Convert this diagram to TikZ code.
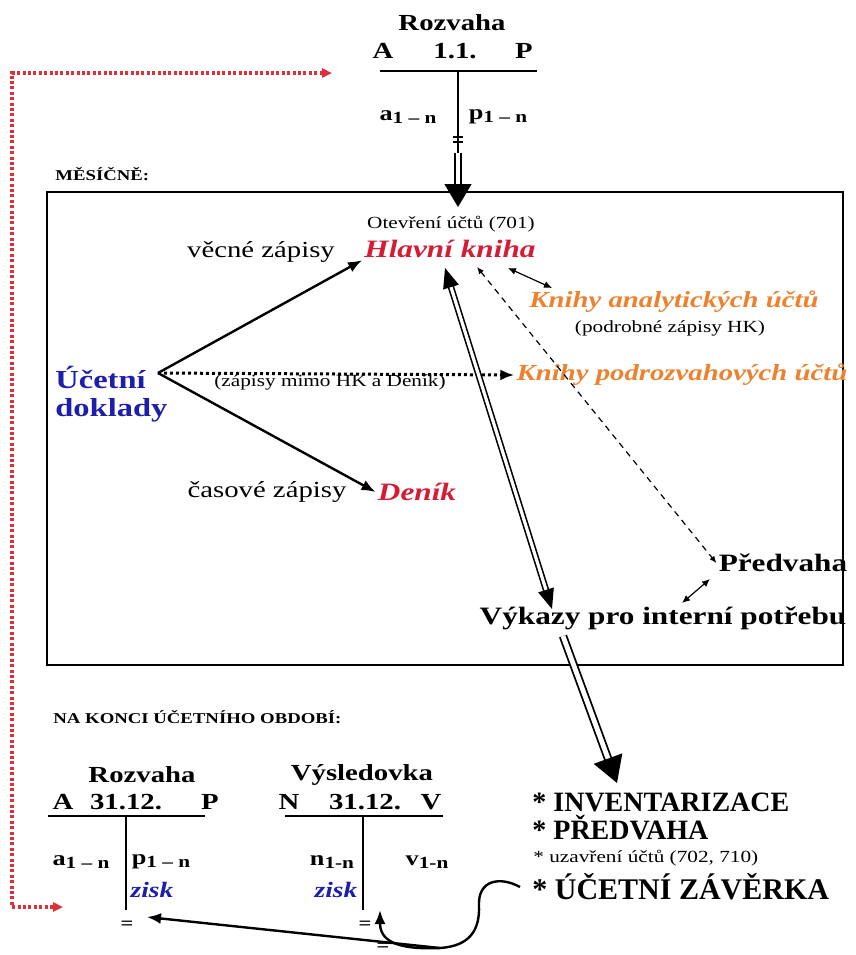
\documentclass[tikz,border=0pt]{standalone}
\usepackage{fontspec}
\setmainfont{Liberation Serif}[FakeStretch=1.25]
\newfontfamily\plainserif{Liberation Serif}
\usetikzlibrary{arrows.meta}

\definecolor{hkred}{RGB}{212,28,52}
\definecolor{bookorange}{RGB}{236,130,48}
\definecolor{docblue}{RGB}{30,30,172}
\definecolor{dotred}{RGB}{222,48,58}

\newcommand{\tsub}[2]{#1\raisebox{-0.3ex}{\fontsize{8.5}{8.5}\selectfont #2}}

\tikzset{
  thead/.style={font=\fontsize{11.5}{13}\selectfont\bfseries, inner sep=1pt},
  tentry/.style={font=\fontsize{10.5}{12}\selectfont\bfseries, inner sep=1pt},
  tline/.style={line width=1.4pt},
  book/.style={font=\fontsize{12.5}{14}\selectfont\bfseries\itshape, text=hkred, inner sep=1pt},
  subbook/.style={font=\fontsize{11.5}{13}\selectfont\bfseries\itshape, text=bookorange, inner sep=1pt},
  entry/.style={font=\fontsize{11.5}{13}\selectfont, inner sep=1pt},
  note/.style={font=\fontsize{8.5}{10}\selectfont, inner sep=1pt},
  period/.style={font=\fontsize{7.5}{9}\selectfont\bfseries, anchor=west, inner sep=0pt},
  report/.style={font=\fontsize{12.5}{14}\selectfont\bfseries, inner sep=1pt},
  closing/.style={font=\plainserif\fontsize{14}{16}\selectfont\bfseries, anchor=west, inner sep=0pt},
  profit/.style={font=\fontsize{11}{13}\selectfont\bfseries\itshape, text=docblue, inner sep=1pt},
  eqmark/.style={font=\fontsize{9}{9}\selectfont\bfseries, inner sep=0pt},
  flow/.style={line width=1.2pt, -{Latex[length=7pt,width=5.5pt]}},
  link/.style={line width=0.6pt, {Latex[length=4pt,width=3.5pt]}-{Latex[length=4pt,width=3.5pt]}},
  dashlink/.style={line width=0.6pt, dash pattern=on 3pt off 2.5pt, {Latex[length=3.5pt,width=3pt]}-{Latex[length=3.5pt,width=3pt]}},
  hollow/.style={double, double distance=#1},
  reddots/.style={dotred, line width=1.6pt, dash pattern=on 1.5pt off 1.2pt, {Triangle[length=5pt,width=4.5pt]}-{Triangle[length=5pt,width=4.5pt]}}
}

\begin{document}
\begin{tikzpicture}[x=0.5pt,y=-0.5pt]
\useasboundingbox (0,0) rectangle (856,955);

\node[thead] (rozTop) at (452,23) {Rozvaha};
\node[thead] (rozTopA) at (383,51) {A};
\node[thead] (rozTopDate) at (455,51) {1.1.};
\node[thead] (rozTopP) at (524,51) {P};
\draw[tline] (380,71) -- (537,71);
\coordinate (rozTopFoot) at (458,153);
\draw[tline] (458,71) -- (rozTopFoot);
\node[tentry] (rozTopAssets) at (408,117) {\tsub{a}{1 – n}};
\node[tentry] (rozTopLiab) at (498,117) {\tsub{p}{1 – n}};
\draw[line width=0.8pt] (453,137) -- (463,137) (453,142) -- (463,142);

\node[period] (monthly) at (55,174) {MĚSÍČNĚ:};
\draw[line width=0.7pt] (47,192) rectangle (843,665);

\coordinate (openIn) at (458,207);
\draw[hollow=2.2pt, line width=0.7pt, -{Triangle[length=11.5pt,width=13.5pt]}] (rozTopFoot) -- (openIn);

\node[note] (opening) at (451,224) {Otevření účtů (701)};
\node[book] (hk) at (450,249) {Hlavní kniha};
\node[entry] (vecne) at (261,252) {věcné zápisy};
\node[font=\fontsize{13}{14}\selectfont\bfseries, text=docblue, align=left, anchor=west, inner sep=0pt] (doklady) at (55,394) {Účetní\\doklady};
\coordinate (fan) at (158,373);

\node[subbook] (analyt) at (674,302) {Knihy analytických účtů};
\node[note] (podrobne) at (670,328) {(podrobné zápisy HK)};
\node[subbook] (podroz) at (682,375) {Knihy podrozvahových účtů};
\node[note] (mimo) at (330,382) {(zápisy mimo HK a Deník)};

\node[entry] (casove) at (267,492) {časové zápisy};
\node[book] (denik) at (417,492) {Deník};

\node[report] (predv) at (783,563) {Předvaha};
\node[report] (vykazy) at (663,618) {Výkazy pro interní potřebu};

\draw[flow] (fan) -- (hk.south west);
\draw[flow] (fan) -- (denik.west);
\draw[flow, line width=1.5pt, dash pattern=on 1.5pt off 1.5pt] (fan) -- (podroz.west);

\coordinate (hkRight) at (508,268);
\coordinate (analytIn) at (552,288);
\draw[link] (hkRight) -- (analytIn);

\coordinate (hkDash) at (477,267);
\draw[dashlink] (hkDash) -- (predv.west);

\coordinate (hkIn) at (445,268);
\coordinate (vykazyIn) at (552,609);
\draw[hollow=1.6pt, line width=0.8pt, {Triangle[length=10pt,width=8pt]}-{Triangle[length=10pt,width=8pt]}] (hkIn) -- (vykazyIn);

\coordinate (predvLow) at (710,579);
\coordinate (vykazyUp) at (682,603);
\draw[link] (vykazyUp) -- (predvLow);

\coordinate (vykazyOut) at (563,636);
\coordinate (invIn) at (617,783);
\draw[hollow=2.4pt, line width=0.9pt, -{Triangle[length=13pt,width=15pt]}] (vykazyOut) -- (invIn);

\node[period] (yearEnd) at (53,717) {NA KONCI ÚČETNÍHO OBDOBÍ:};

\node[thead] (rozEnd) at (142,775) {Rozvaha};
\node[thead] (rozEndA) at (63,802) {A};
\node[thead] (rozEndDate) at (126,802) {31.12.};
\node[thead] (rozEndP) at (210,802) {P};
\draw[tline] (48,816) -- (205,816);
\draw[tline] (126,816) -- (126,910);
\node[tentry] (rozEndAssets) at (81,862) {\tsub{a}{1 – n}};
\node[tentry] (rozEndLiab) at (161,862) {\tsub{p}{1 – n}};
\node[profit] (rozEndProfit) at (152,890) {zisk};
\node[eqmark] (rozEndEq) at (127,925) {=};

\node[thead] (vysl) at (362,775) {Výsledovka};
\node[thead] (vyslN) at (289,802) {N};
\node[thead] (vyslDate) at (365,802) {31.12.};
\node[thead] (vyslV) at (431,802) {V};
\draw[tline] (285,816) -- (443,816);
\draw[tline] (363,816) -- (363,910);
\node[tentry] (vyslCost) at (332,862) {\tsub{n}{1-n}};
\node[tentry] (vyslRev) at (427,862) {\tsub{v}{1-n}};
\node[profit] (vyslProfit) at (336,890) {zisk};
\node[eqmark] (vyslEq) at (365,925) {=};
\node[eqmark] (vyslEq2) at (383,947) {=};

\node[closing] (inv) at (532,802) {* INVENTARIZACE};
\node[closing] (predvEnd) at (532,828) {* PŘEDVAHA};
\node[note, anchor=west, inner sep=0pt] (uzav) at (533,858) {* uzavření účtů (702, 710)};
\node[closing, font=\plainserif\fontsize{15}{17}\selectfont\bfseries] (zaverka) at (532,887) {* ÚČETNÍ ZÁVĚRKA};

\coordinate (junc) at (440,948);
\coordinate (rozEndIn) at (147,917);
\coordinate (vyslIn) at (380,910);
\draw[line width=1.2pt] ([xshift=-6pt]zaverka.west) .. controls (500,876) and (478,880) .. (479,905) .. controls (480,930) and (470,946) .. (junc);
\draw[flow] (junc) -- (rozEndIn);
\draw[flow] (junc) .. controls (395,950) and (380,940) .. (vyslIn);

\coordinate (rdTop) at (332,73);
\coordinate (rdBot) at (63,907);
\draw[reddots] (rdTop) -- ++(-320,0) |- (rdBot);
\end{tikzpicture}
\end{document}
